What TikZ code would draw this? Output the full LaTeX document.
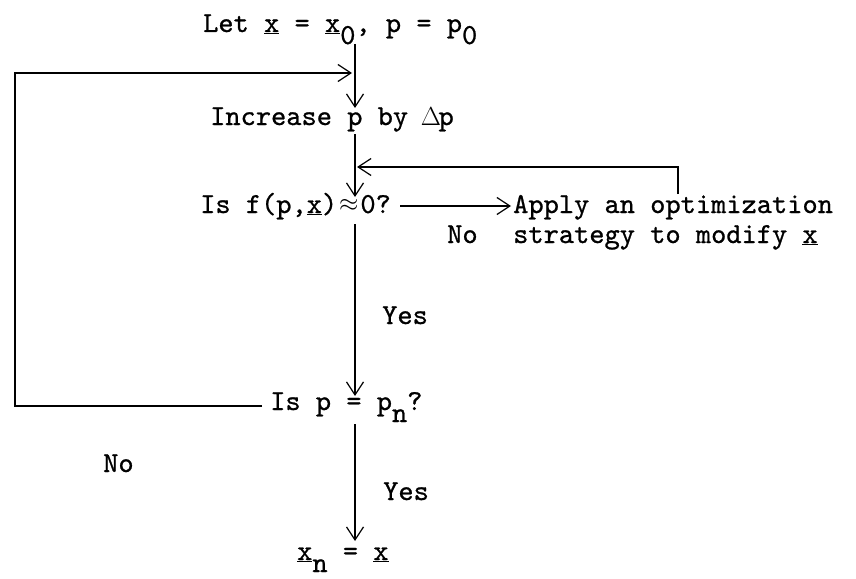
\documentclass[tikz,border=0pt]{standalone}
\usepackage{fontspec}
\setmonofont[FakeBold=0.8]{lmmono10-regular.otf}
\usetikzlibrary{arrows.meta}
\newcommand\lowr[1]{\raisebox{-12pt}{#1}}
\newcommand\tw{\ttfamily\fontsize{29}{34}\selectfont}
\newcommand\dlt{\makebox[0.525em]{\scalebox{1.05}{$\Delta$}}}
\newcommand\apx{\makebox[0.8em]{\raisebox{2pt}{$\approx$}}}
\begin{document}
\begin{tikzpicture}[x=1pt,y=-1pt,
  txt/.style={inner sep=0pt, anchor=base west, font=\tw},
  ln/.style={line width=1.2pt},
  arr/.style={ln,-{Straight Barb[length=13pt,width=17pt,line width=1.2pt]}}]
\useasboundingbox (0,0) rectangle (856,578);
% text nodes
\node[txt] (let) at (203,32) {Let \underline{x} = \underline{x}\lowr{0}, p = p\lowr{0}};
\node[txt] (inc) at (210,125) {Increase p by \dlt p};
\node[txt] (isf) at (200,213) {Is f(p,\underline{x})\apx0?};
\node[txt] (app) at (513,213) {Apply an optimization};
\node[txt] (strat) at (513,243) {strategy to modify \underline{x}};
\node[txt] (isp) at (270,410) {Is p = p\lowr{n}?};
\node[txt] (res) at (297,560) {\underline{x}\lowr{n} = \underline{x}};
% labels
\node[txt] (no1) at (447,243) {No};
\node[txt] (yes1) at (382,324) {Yes};
\node[txt] (no2) at (103,472) {No};
\node[txt] (yes2) at (383,500) {Yes};
% connector end points
\coordinate (a1) at (355,44);
\coordinate (a2) at (355,108);
\coordinate (b1) at (355,134);
\coordinate (b2) at (355,197);
\coordinate (c1) at (400,206);
\coordinate (c2) at (511,206);
\coordinate (d1) at (678,194);
\coordinate (d2) at (678,167);
\coordinate (d3) at (357,167);
\coordinate (e1) at (355,224);
\coordinate (e2) at (355,396);
\coordinate (f1) at (262,406);
\coordinate (f2) at (15,406);
\coordinate (f3) at (15,73);
\coordinate (f4) at (352,73);
\coordinate (g1) at (355,424);
\coordinate (g2) at (355,541);
% connectors
\draw[arr] (a1) -- (a2);
\draw[arr] (b1) -- (b2);
\draw[arr] (c1) -- (c2);
\draw[arr] (d1) -- (d2) -- (d3);
\draw[arr] (e1) -- (e2);
\draw[arr] (f1) -- (f2) -- (f3) -- (f4);
\draw[arr] (g1) -- (g2);
\end{tikzpicture}
\end{document}
